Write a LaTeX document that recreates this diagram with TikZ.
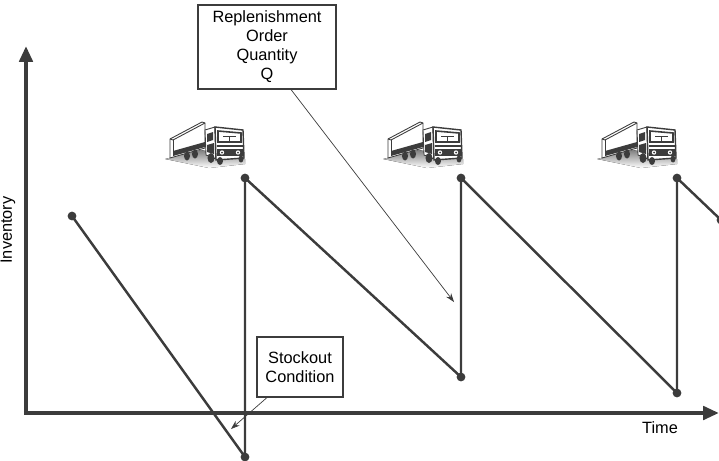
\documentclass[tikz,border=0pt]{standalone}
\usepackage{fontspec}
\setmainfont{Liberation Sans}
\usetikzlibrary{arrows.meta}

\definecolor{ink}{HTML}{3C3C3C}
\definecolor{shade}{HTML}{6A6A6A}

\tikzset{
  axis/.style={ink, line width=2.3pt, -{Triangle[length=9pt, width=7.5pt]}},
  saw/.style={ink, line width=1.4pt, line join=round},
  dot/.style={circle, fill=ink, inner sep=0pt, minimum size=5pt},
  callout/.style={draw=ink, line width=0.6pt, fill=white, align=center,
    font=\fontsize{9.3}{10.8}\selectfont},
  leader/.style={ink, line width=0.4pt, -{Stealth[length=5pt, width=3.5pt]}},
  truck/.pic={
    % ground shadow
    \fill[shade] (0,41) -- (36,32) -- (80,41) -- (80,46) -- (44,50) -- cycle;
    % trailer
    \filldraw[fill=white, draw=ink, line width=0.5pt] (5,21) -- (37,4) -- (40,5) -- (40,30) -- (5,40) -- cycle;
    \draw[ink, line width=0.5pt] (5,21) -- (8,22) -- (40,5);
    \fill[ink] (8,33) -- (40,24) -- (40,29) -- (8,38) -- cycle;
    \draw[ink, line width=0.5pt] (8,22) -- (8,38);
    % cab side
    \filldraw[fill=white, draw=ink, line width=0.5pt] (40,12) -- (50,9) -- (51,41) -- (41,37) -- cycle;
    \fill[ink] (42,16) -- (48,14) -- (48,22) -- (42,24) -- cycle;
    \fill[ink] (42,27) -- (49,25) -- (49,36) -- (42,34) -- cycle;
    % cab front
    \filldraw[fill=white, draw=ink, line width=0.8pt] (50,9) -- (78,12) -- (79,40) -- (51,42) -- cycle;
    \filldraw[fill=white, draw=ink, line width=0.9pt] (53,13) -- (76,15) -- (76,24) -- (53,24) -- cycle;
    \draw[ink, line width=0.5pt] (58,18) -- (71,18) (64,18) -- (64,23) (60,23) -- (68,23);
    \fill[ink] (52,27) rectangle (78,29);
    % headlights and bumper
    \fill[ink] (52,31) rectangle (78,38);
    \fill[white] (57,34.5) circle (2.2) (73,34.5) circle (2.2);
    \fill[ink] (57,34.5) circle (1) (73,34.5) circle (1);
    % wheels
    \fill[ink] (22,38) ellipse (3 and 4.5) (30,36) ellipse (3 and 4.5);
    \fill[ink] (46,40) ellipse (3.5 and 5);
    \fill[ink] (55,43) ellipse (3 and 4) (76,41) ellipse (2.5 and 3.5);
  }
}

\begin{document}
\begin{tikzpicture}[x=0.02cm, y=-0.02cm]
\useasboundingbox (0,0) rectangle (719,460);
\clip (0,0) rectangle (719,460);

% axes
\coordinate (o) at (26,413);
\coordinate (ytip) at (26,46);
\coordinate (xtip) at (719,413);
\draw[axis] (o) -- (ytip);
\draw[axis] ([xshift=-1.2pt]o) -- (xtip);
\node[rotate=90, font=\fontsize{9.3}{10.8}\selectfont] (inv) at (8,230) {Inventory};
\node[font=\fontsize{9.3}{10.8}\selectfont] (time) at (660,428) {Time};

% inventory level
\coordinate (p0) at (72,216);
\coordinate (p1) at (245,457);
\coordinate (p2) at (245,178);
\coordinate (p3) at (461,377);
\coordinate (p4) at (461,178);
\coordinate (p5) at (677,393);
\coordinate (p6) at (677,178);
\coordinate (p7) at (721,220);
\draw[saw] (p0) -- (p1) -- (p2) -- (p3) -- (p4) -- (p5) -- (p6) -- (p7);
\foreach \p in {p0,p1,p2,p3,p4,p5,p6,p7}
  \node[dot] at (\p) {};

% deliveries
\pic at (165,118) {truck};
\pic at (383,118) {truck};
\pic at (597,118) {truck};

% labels
\node[callout, minimum width=2.76cm, minimum height=1.68cm] (rep) at (267,47)
  {Replenishment\\Order\\Quantity\\Q};
\node[callout, minimum width=1.72cm, minimum height=1.2cm] (stock) at (300,367)
  {Stockout\\Condition};
\coordinate (qend) at (454,302);
\coordinate (send) at (231,429);
\draw[leader] ([xshift=0.48cm]rep.south) -- (qend);
\draw[leader] ([xshift=-0.66cm]stock.south) -- (send);
\end{tikzpicture}
\end{document}
